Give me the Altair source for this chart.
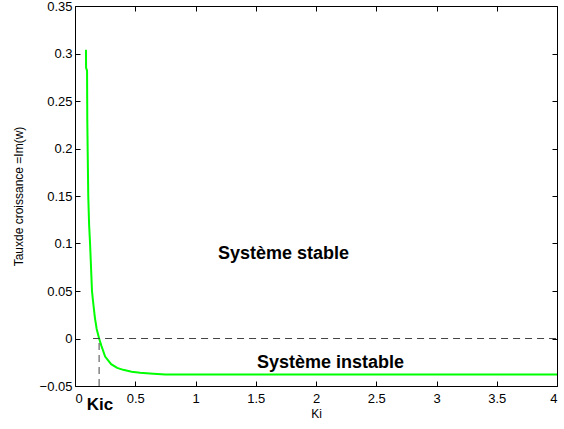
import altair as alt
import pandas as pd

# curve values
ki = [0.091, 0.092, 0.100, 0.102, 0.106, 0.110, 0.117, 0.125, 0.133, 0.141, 0.149,
      0.165, 0.180, 0.200, 0.220, 0.250, 0.300, 0.350, 0.400, 0.470, 0.540, 0.650,
      0.750, 1.0, 1.5, 2.0, 2.5, 3.0, 3.5, 4.0]
taux = [0.304, 0.285, 0.282, 0.230, 0.190, 0.150, 0.120, 0.100, 0.075, 0.050, 0.040,
        0.022, 0.010, 0.000, -0.008, -0.019, -0.027, -0.031, -0.033, -0.035, -0.036, -0.037,
        -0.038, -0.038, -0.038, -0.038, -0.038, -0.038, -0.038, -0.038]

x_ticks = [0, 0.5, 1, 1.5, 2, 2.5, 3, 3.5, 4]
y_ticks = [-0.05, 0, 0.05, 0.1, 0.15, 0.2, 0.25, 0.3, 0.35]

# dashed reference lines
h_x = [0.15]
h_x2 = [4.0]
h_y = [0.0]
kic = [0.2]
v_y = [-0.05]
v_y2 = [0.0]

# annotations
ann_text = ["Système stable", "Système instable"]
ann_x = [1.73, 2.12]
ann_y = [0.0837, -0.031]
kic_text = ["Kic"]
kic_x = [0.207]
kic_y = [-0.0695]

FONT = "Liberation Sans"

curve_df = pd.DataFrame({"Ki": ki, "taux": taux})
h_df = pd.DataFrame({"x": h_x, "x2": h_x2, "y": h_y})
v_df = pd.DataFrame({"x": kic, "y": v_y, "y2": v_y2})
ann_df = pd.DataFrame({"t": ann_text, "x": ann_x, "y": ann_y})
kic_df = pd.DataFrame({"t": kic_text, "x": kic_x, "y": kic_y})

xs = alt.Scale(domain=[0, 4], nice=False, zero=False)
ys = alt.Scale(domain=[-0.05, 0.35], nice=False, zero=False)

x_bottom = alt.Axis(values=x_ticks, format="~g", orient="bottom", grid=False, domain=False,
                    tickColor="black", tickSize=5, offset=-5, labelFont=FONT, labelFontSize=13,
                    labelColor="black", labelPadding=6, title="Ki", titleFont=FONT,
                    titleFontSize=12, titleColor="black", titleFontWeight="normal", titlePadding=3)
y_left = alt.Axis(values=y_ticks, format="~g", orient="left", grid=False, domain=False,
                  tickColor="black", tickSize=5, offset=-5, labelFont=FONT, labelFontSize=13,
                  labelColor="black", labelPadding=3, title="Tauxde croissance =Im(w)",
                  titleFont=FONT, titleFontSize=12, titleColor="black", titleFontWeight="normal",
                  titlePadding=14)
x_top = alt.Axis(values=x_ticks, orient="top", grid=False, domain=False, labels=False,
                 tickColor="black", tickSize=5, offset=-5, title=None)
y_right = alt.Axis(values=y_ticks, orient="right", grid=False, domain=False, labels=False,
                   tickColor="black", tickSize=5, offset=-5, title=None)

curve = alt.Chart(curve_df).mark_line(color="#00ff00", strokeWidth=2).encode(
    x=alt.X("Ki:Q", scale=xs, axis=x_bottom),
    y=alt.Y("taux:Q", scale=ys, axis=y_left),
)

hline = alt.Chart(h_df).mark_rule(color="#444444", strokeWidth=1, strokeDash=[7, 5]).encode(
    x=alt.X("x:Q", scale=xs, axis=x_top),
    x2="x2:Q",
    y=alt.Y("y:Q", scale=ys, axis=y_right),
)

vline = alt.Chart(v_df).mark_rule(color="#444444", strokeWidth=1, strokeDash=[7, 5]).encode(
    x=alt.X("x:Q", scale=xs, axis=None),
    y=alt.Y("y:Q", scale=ys, axis=None),
    y2="y2:Q",
)

ann = alt.Chart(ann_df).mark_text(font=FONT, fontSize=18, fontWeight="bold", color="black",
                                  align="center", baseline="alphabetic").encode(
    x=alt.X("x:Q", scale=xs, axis=None),
    y=alt.Y("y:Q", scale=ys, axis=None),
    text="t:N",
)

kic_lbl = alt.Chart(kic_df).mark_text(font=FONT, fontSize=17, fontWeight="bold", color="black",
                                      align="center", baseline="middle").encode(
    x=alt.X("x:Q", scale=xs, axis=None),
    y=alt.Y("y:Q", scale=ys, axis=None),
    text="t:N",
)

chart = alt.layer(curve, hline, vline, ann, kic_lbl).resolve_axis(
    x="independent", y="independent"
).properties(
    width=482, height=380,
    padding={"left": 75, "top": 6, "right": 7, "bottom": 43},
    autosize=alt.AutoSizeParams(type="none"),
    background="white",
).configure_view(stroke="black", strokeWidth=1)

chart.save("out.html", embed_options={"renderer": "svg", "actions": False})
